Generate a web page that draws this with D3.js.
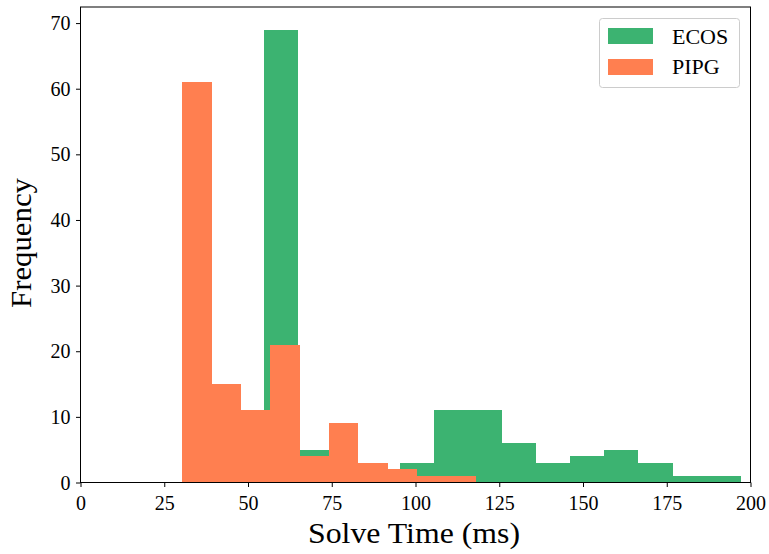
<!DOCTYPE html>
<html><head><meta charset="utf-8">
<script src="https://cdn.jsdelivr.net/npm/d3@7"></script>
<style>body{margin:0;background:#fff}svg{display:block}text{font-family:"Liberation Serif","Times New Roman",serif;fill:#000}</style>
</head><body><svg id="c" width="769" height="554"></svg>
<script>
const seriesNames = ["ECOS", "PIPG"];
const colors = ["#3CB371", "#FF7F50"];
const ecosEdges = [54.8, 64.96, 75.12, 85.28, 95.44, 105.6, 115.76, 125.92, 136.08, 146.24, 156.4, 166.56, 176.72, 186.88, 197.04];
const ecosCounts = [69, 5, 0, 0, 3, 11, 11, 6, 3, 4, 5, 3, 1, 1];
const pipgEdges = [30.35, 39.12, 47.88, 56.65, 65.41, 74.18, 82.94, 91.71, 100.47, 109.24, 118.0];
const pipgCounts = [61, 15, 11, 21, 4, 9, 3, 2, 1, 1];
const xTicks = [0, 25, 50, 75, 100, 125, 150, 175, 200];
const yTicks = [0, 10, 20, 30, 40, 50, 60, 70];

const svg = d3.select("#c");
const L = 80.5, R = 750.5, T = 7, B = 482.5;
const x = d3.scaleLinear().domain([0, 200]).range([L, R]);
const y = d3.scaleLinear().domain([0, 72.45]).range([B, T]);

function bars(edges, counts, color) {
  const data = counts.map((c, i) => ({x0: edges[i], x1: edges[i + 1], c}));
  svg.append("g").selectAll("rect").data(data).join("rect")
    .attr("x", d => x(d.x0)).attr("width", d => x(d.x1) - x(d.x0))
    .attr("y", d => y(d.c)).attr("height", d => y(0) - y(d.c))
    .attr("fill", color).attr("shape-rendering", "crispEdges");
}
bars(ecosEdges, ecosCounts, colors[0]);
bars(pipgEdges, pipgCounts, colors[1]);

svg.append("rect").attr("x", L).attr("y", T).attr("width", R - L).attr("height", B - T)
  .attr("fill", "none").attr("stroke", "#000").attr("stroke-width", 1);

const xa = svg.append("g").attr("transform", `translate(0,${B})`)
  .call(d3.axisBottom(x).tickValues(xTicks).tickSize(4.5).tickFormat(d3.format("d")));
xa.selectAll("text").attr("y", 27.5).attr("dy", null);
const ya = svg.append("g").attr("transform", `translate(${L},0)`)
  .call(d3.axisLeft(y).tickValues(yTicks).tickSize(4.5).tickFormat(d3.format("d")));
ya.selectAll("text").attr("x", -10).attr("dy", "0.33em");
[xa, ya].forEach(a => {
  a.select(".domain").remove();
  a.selectAll("line").attr("stroke", "#000");
  a.selectAll("text").style("font-family", '"Liberation Serif",serif').style("font-size", "20px").attr("fill", "#000");
});

svg.append("text").attr("x", 414).attr("y", 542.5).attr("text-anchor", "middle")
  .attr("textLength", 212).attr("lengthAdjust", "spacingAndGlyphs")
  .style("font-size", "29px").text("Solve Time (ms)");
svg.append("text").attr("transform", `translate(31,243) rotate(-90)`).attr("text-anchor", "middle")
  .attr("textLength", 130).attr("lengthAdjust", "spacingAndGlyphs")
  .style("font-size", "29px").text("Frequency");

const lg = svg.append("g");
lg.append("rect").attr("x", 599.5).attr("y", 18.5).attr("width", 140).attr("height", 69).attr("rx", 3)
  .attr("fill", "#fff").attr("fill-opacity", 0.8).attr("stroke", "#ccc");
seriesNames.forEach((n, i) => {
  lg.append("rect").attr("x", 608).attr("y", 28 + i * 31).attr("width", 45).attr("height", 16).attr("fill", colors[i]);
  lg.append("text").attr("x", 672).attr("y", 43.5 + i * 30).style("font-size", "22px").text(n);
});
</script></body></html>
